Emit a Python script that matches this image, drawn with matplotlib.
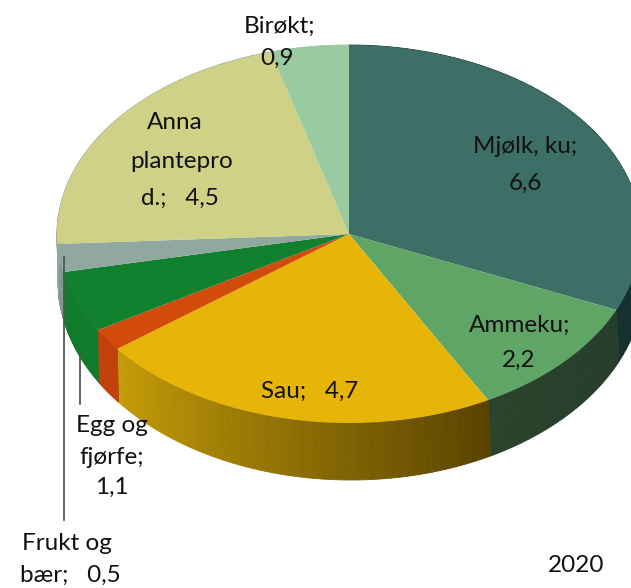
import numpy as np
from matplotlib import pyplot as plt
from matplotlib.colors import to_rgb

names = ['Mjølk, ku', 'Ammeku', 'Sau', 'Annet', 'Egg og fjørfe', 'Frukt og bær', 'Anna planteprod.', 'Birøkt']
values = [6.6, 2.2, 4.7, 0.4, 1.1, 0.5, 4.5, 0.9]
year = '2020'

top_colors = ['#3d6f66', '#5fa566', '#e6b507', '#d24a0c', '#11812f', '#90a8a0', '#cfd186', '#9aca9f']
side_colors = [('#14302f', '#14302f'), ('#243c2a', '#2a432c'), ('#5a4300', '#c49c08'), ('#c3420b', '#c3420b'),
               ('#117c2c', '#117c2c'), ('#7f9a90', '#7f9a90'), ('#90a8a0', '#90a8a0'), ('#9aca9f', '#9aca9f')]

W, H = 631, 588
# top ellipse in pixels
cx, cy, rx, ry = 349, 234, 292, 189
# bottom rim ellipse, in pixels
bx, by, brx, bry = 351, 281, 293, 199

fig = plt.figure(figsize=(W/100, H/100), dpi=100)
ax = fig.add_axes([0, 0, 1, 1])
plt.rcParams['font.family'] = ['Lato', 'DejaVu Sans']

ax.pie(values, colors=top_colors, startangle=90, counterclock=False, radius=1, frame=True,
       wedgeprops={'linewidth': 0, 'zorder': 5})
ax.set_aspect('auto')
ax.set_xlim(-cx/rx, (W-cx)/rx)
ax.set_ylim((cy-H)/ry, cy/ry)
ax.axis('off')


def px(x, y):
    return (x-cx)/rx, (cy-y)/ry


# side of the pie, drawn as thin strips between the two ellipses
total = sum(values)
edges = np.cumsum([0] + values)/total*2*np.pi
for i in range(len(values)):
    c0, c1 = np.array(to_rgb(side_colors[i][0])), np.array(to_rgb(side_colors[i][1]))
    t = np.linspace(edges[i], edges[i+1], 60)
    for j in range(len(t)-1):
        a = t[j:j+2]
        xt = np.sin(a)
        yt = np.cos(a)
        xb, yb = px(bx+brx*np.sin(a), by-bry*np.cos(a))
        col = c0+(c1-c0)*j/(len(t)-2)
        ax.fill([xt[0], xt[1], xb[1], xb[0]], [yt[0], yt[1], yb[1], yb[0]],
                color=col, linewidth=0.6, zorder=2)

# leader lines
for x0, y0, y1 in [(63.5, 257, 520), (80, 355, 404)]:
    xs, ys = px(np.array([x0, x0]), np.array([y0, y1]))
    ax.plot(xs, ys, color='#555555', lw=1.3, zorder=6)

labels = [('Birøkt;', 279, 26), ('0,9', 277, 58),
          ('Mjølk, ku;', 525, 146), ('6,6', 525, 183),
          ('Anna', 175, 122), ('plantepro', 182, 161), ('d.;   4,5', 180, 198),
          ('Ammeku;', 520, 325), ('2,2', 519, 360),
          ('Sau;   4,7', 310, 391),
          ('Egg og', 112, 425), ('fjørfe;', 112, 457), ('1,1', 112, 487),
          ('Frukt og', 67, 544), ('bær;   0,5', 70, 575),
          (year, 576, 565)]
for s, x0, y0 in labels:
    xt, yt = px(x0, y0)
    ax.text(xt, yt, s, ha='center', va='center', fontsize=17.5, color='#111111', zorder=7)

fig.savefig('out.png', dpi=100)
